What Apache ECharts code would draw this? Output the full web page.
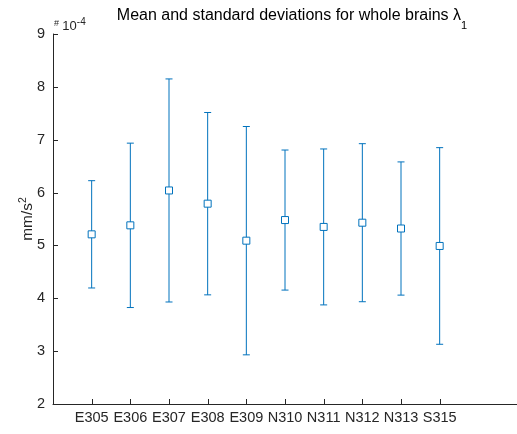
<!DOCTYPE html>
<html>
<head>
<meta charset="utf-8">
<script src="https://cdn.jsdelivr.net/npm/echarts@6/dist/echarts.min.js"></script>
<style>
  html, body { margin: 0; padding: 0; background: #fff; }
  #chart { width: 517px; height: 434px; }
</style>
</head>
<body>
<div id="chart"></div>
<script>
// Subjects and λ1 statistics (units of 1e-4 mm/s^2)
const categories = ['E305', 'E306', 'E307', 'E308', 'E309', 'N310', 'N311', 'N312', 'N313', 'S315'];
const means = [5.21, 5.38, 6.04, 5.79, 5.09, 5.48, 5.35, 5.43, 5.32, 4.99];
const stds = [1.015, 1.555, 2.11, 1.725, 2.16, 1.325, 1.475, 1.495, 1.26, 1.86];
const yTicks = [2, 3, 4, 5, 6, 7, 8, 9];

const BLUE = '#0072BD';
const AXIS = '#262626';
const FONT = 'Liberation Sans, Arial, Helvetica, sans-serif';
const TICK = 5;
const Y_MIN = 2, Y_MAX = 9;

// x positions 0..12: subjects sit at 1..10, the rest is empty axis room
const slots = ['', ...categories, '', ''];
const isSubject = i => i >= 1 && i <= categories.length;
const points = categories.map((c, i) => [i + 1, means[i], stds[i]]);

// Inward-pointing tick marks, placed through the axis scales
const tickStyle = { stroke: AXIS, lineWidth: 1 };
const xTickSeries = {
  type: 'custom', silent: true, clip: false,
  data: categories.map((c, i) => [i + 1, Y_MIN]),
  renderItem: (params, api) => {
    const p = api.coord([api.value(0), api.value(1)]);
    const x = Math.round(p[0]) + 0.5;
    return { type: 'line', shape: { x1: x, y1: p[1], x2: x, y2: p[1] - TICK }, style: tickStyle };
  }
};
const yTickSeries = {
  type: 'custom', silent: true, clip: false,
  data: yTicks.map(v => [0, v]),
  renderItem: (params, api) => {
    const p = api.coord([api.value(0), api.value(1)]);
    const y = Math.round(p[1]) + 0.5;
    return { type: 'line', shape: { x1: p[0], y1: y, x2: p[0] + TICK, y2: y }, style: tickStyle };
  }
};

const chart = echarts.init(document.getElementById('chart'));
chart.setOption({
  animation: false,
  backgroundColor: '#fff',
  title: {
    text: 'Mean and standard deviations for whole brains λ{sub|1}',
    left: 287, top: 3, textAlign: 'center',
    textStyle: {
      fontFamily: FONT, fontSize: 16, fontWeight: 'normal', color: '#000',
      rich: { sub: { fontFamily: FONT, fontSize: 11, color: '#000', verticalAlign: 'bottom', padding: [0, 0, -7, 0] } }
    }
  },
  graphic: [{
    type: 'text', left: 54, top: 17,
    style: {
      text: '{h|#} {b|10}{e|-4}',
      fill: AXIS,
      rich: {
        h: { fontFamily: FONT, fontSize: 9, fill: AXIS, padding: [0, 0, 5, 0] },
        b: { fontFamily: FONT, fontSize: 13, fill: AXIS },
        e: { fontFamily: FONT, fontSize: 10, fill: AXIS, padding: [0, 0, 9, 0] }
      }
    }
  }],
  grid: { left: 53, top: 34, bottom: 30, width: 470 },
  xAxis: {
    type: 'category', data: slots, boundaryGap: false,
    axisLine: { lineStyle: { color: AXIS, width: 1 } },
    axisTick: { show: false },
    axisLabel: {
      interval: i => isSubject(i),
      fontFamily: FONT, fontSize: 14.5, color: AXIS, margin: 6
    },
    splitLine: { show: false }
  },
  yAxis: {
    type: 'value', min: Y_MIN, max: Y_MAX, interval: 1,
    name: '{t|mm/s}{s|2}', nameLocation: 'middle', nameGap: 16, nameRotate: 90,
    nameMoveOverlap: false,
    nameTextStyle: {
      rich: {
        t: { fontFamily: FONT, fontSize: 15.4, color: AXIS },
        s: { fontFamily: FONT, fontSize: 10.5, color: AXIS, padding: [0, 0, 8, 0] }
      }
    },
    axisLine: { show: true, lineStyle: { color: AXIS, width: 1 } },
    axisTick: { show: false },
    axisLabel: { fontFamily: FONT, fontSize: 14.5, color: AXIS, margin: 8 },
    splitLine: { show: false }
  },
  series: [xTickSeries, yTickSeries, {
    type: 'custom',
    data: points,
    renderItem: (params, api) => {
      const x = api.value(0), m = api.value(1), s = api.value(2);
      const top = api.coord([x, m + s]);
      const bot = api.coord([x, m - s]);
      const mid = api.coord([x, m]);
      const cap = 3.5, half = 3.5;
      const ls = { stroke: BLUE, lineWidth: 1, fill: null };
      return {
        type: 'group',
        children: [
          { type: 'line', shape: { x1: top[0], y1: top[1], x2: bot[0], y2: bot[1] }, style: ls },
          { type: 'line', shape: { x1: top[0] - cap, y1: top[1], x2: top[0] + cap, y2: top[1] }, style: ls },
          { type: 'line', shape: { x1: bot[0] - cap, y1: bot[1], x2: bot[0] + cap, y2: bot[1] }, style: ls },
          { type: 'rect', shape: { x: mid[0] - half, y: mid[1] - half, width: 2 * half, height: 2 * half },
            style: { stroke: BLUE, lineWidth: 1, fill: '#fff' } }
        ]
      };
    }
  }]
});
</script>
</body>
</html>
